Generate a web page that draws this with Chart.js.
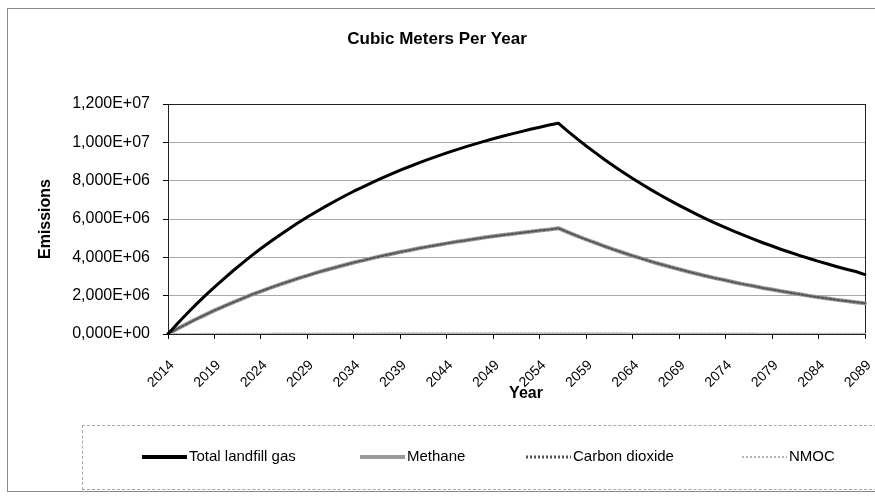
<!DOCTYPE html>
<html>
<head>
<meta charset="utf-8">
<script src="https://cdn.jsdelivr.net/npm/chart.js@4.4.1/dist/chart.umd.min.js"></script>
<style>
  html, body { margin: 0; padding: 0; background: #fff; }
  #wrap { position: relative; width: 875px; height: 496px; overflow: hidden; }
  .frame { position: absolute; box-sizing: border-box; }
  #outer { left: 7px; top: 8px; width: 870px; height: 484px; border: 1px solid #8a8a8a; border-right: none; }
  #legendBox { left: 82px; top: 425px; width: 795px; height: 65px; border: 1px dashed #a8a8a8; border-right: none; }
  canvas { position: absolute; left: 0; top: 0; }
</style>
</head>
<body>
<div id="wrap">
  <div id="outer" class="frame"></div>
  <div id="legendBox" class="frame"></div>
  <canvas id="gasChart" width="875" height="496"></canvas>
</div>
<script>
// lata 2014–2089, wartości w milionach m3 na rok
const years = [];
for (let y = 2014; y <= 2089; y++) years.push(String(y));

const totalGas = [
  0, 0.53, 1.04, 1.53, 2.00, 2.45, 2.88, 3.30, 3.70, 4.09,
  4.46, 4.81, 5.15, 5.48, 5.80, 6.10, 6.39, 6.67, 6.94, 7.20,
  7.45, 7.68, 7.91, 8.13, 8.34, 8.55, 8.74, 8.93, 9.11, 9.28,
  9.45, 9.61, 9.76, 9.91, 10.05, 10.19, 10.32, 10.44, 10.56, 10.68,
  10.79, 10.90, 11.00, 10.59, 10.19, 9.81, 9.45, 9.09, 8.75, 8.43,
  8.11, 7.81, 7.52, 7.24, 6.97, 6.71, 6.46, 6.22, 5.98, 5.76,
  5.55, 5.34, 5.14, 4.95, 4.76, 4.59, 4.41, 4.25, 4.09, 3.94,
  3.79, 3.65, 3.51, 3.38, 3.26, 3.10
];

const methane = [
  0, 0.27, 0.52, 0.77, 1.00, 1.23, 1.44, 1.65, 1.85, 2.05,
  2.23, 2.41, 2.58, 2.74, 2.90, 3.05, 3.20, 3.34, 3.47, 3.60,
  3.73, 3.84, 3.96, 4.07, 4.17, 4.28, 4.37, 4.47, 4.56, 4.64,
  4.73, 4.81, 4.88, 4.96, 5.03, 5.10, 5.16, 5.22, 5.28, 5.34,
  5.40, 5.45, 5.52, 5.32, 5.12, 4.93, 4.75, 4.57, 4.40, 4.24,
  4.08, 3.93, 3.78, 3.64, 3.51, 3.38, 3.25, 3.13, 3.01, 2.90,
  2.80, 2.69, 2.59, 2.50, 2.40, 2.32, 2.23, 2.15, 2.07, 1.99,
  1.92, 1.85, 1.78, 1.72, 1.66, 1.60
];

const carbonDioxide = [
  0, 0.27, 0.52, 0.77, 1.00, 1.23, 1.44, 1.65, 1.85, 2.05,
  2.23, 2.41, 2.58, 2.74, 2.90, 3.05, 3.20, 3.34, 3.47, 3.60,
  3.73, 3.84, 3.96, 4.07, 4.17, 4.28, 4.37, 4.47, 4.56, 4.64,
  4.73, 4.81, 4.88, 4.96, 5.03, 5.10, 5.16, 5.22, 5.28, 5.34,
  5.40, 5.45, 5.52, 5.32, 5.12, 4.93, 4.75, 4.57, 4.40, 4.24,
  4.08, 3.93, 3.78, 3.64, 3.51, 3.38, 3.25, 3.13, 3.01, 2.90,
  2.80, 2.69, 2.59, 2.50, 2.40, 2.32, 2.23, 2.15, 2.07, 1.99,
  1.92, 1.85, 1.78, 1.72, 1.66, 1.60
];

const nmoc = [
  0, 0.002, 0.004, 0.006, 0.008, 0.010, 0.012, 0.013, 0.015, 0.016,
  0.018, 0.019, 0.021, 0.022, 0.023, 0.024, 0.026, 0.027, 0.028, 0.029,
  0.030, 0.031, 0.032, 0.033, 0.033, 0.034, 0.035, 0.036, 0.036, 0.037,
  0.038, 0.038, 0.039, 0.040, 0.040, 0.041, 0.041, 0.042, 0.042, 0.043,
  0.043, 0.044, 0.044, 0.042, 0.041, 0.039, 0.038, 0.036, 0.035, 0.034,
  0.032, 0.031, 0.030, 0.029, 0.028, 0.027, 0.026, 0.025, 0.024, 0.023,
  0.022, 0.021, 0.021, 0.020, 0.019, 0.018, 0.018, 0.017, 0.016, 0.016,
  0.015, 0.015, 0.014, 0.014, 0.013, 0.013
];

const seriesNames = ['Total landfill gas', 'Methane', 'Carbon dioxide', 'NMOC'];
const labelEvery = 5;
const MILLION = 1e6;

const FONT = "'Liberation Sans', Arial, sans-serif";
Chart.defaults.font.family = FONT;
Chart.defaults.color = '#000';

// format jak w Excelu: 1,200E+07
function sciLabel(v) {
    if (v === 0) return '0,000E+00';
    const exp = Math.floor(Math.log10(v) + 1e-9);
    const mant = v / Math.pow(10, exp);
    return mant.toFixed(3).replace('.', ',') + 'E+' + String(exp).padStart(2, '0');
}

// ramka wokół obszaru wykresu
const plotFrame = {
    id: 'plotFrame',
    beforeDatasetsDraw(chart) {
        const a = chart.chartArea, c = chart.ctx;
        c.save();
        c.strokeStyle = '#222';
        c.lineWidth = 1;
        c.strokeRect(Math.round(a.left) + 0.5, Math.round(a.top) + 0.5,
                     Math.round(a.right - a.left), Math.round(a.bottom - a.top));
        c.restore();
    }
};

// tytuł, podpis osi X i legenda rysowane ręcznie (pozycje jak na oryginale)
const legendX = [142, 360, 526, 742];
const titleAndLegend = {
    id: 'titleAndLegend',
    afterDraw(chart) {
        const c = chart.ctx;
        c.save();
        c.fillStyle = '#000';
        c.font = 'bold 17px ' + FONT;
        c.textAlign = 'center';
        c.textBaseline = 'middle';
        c.fillText('Cubic Meters Per Year', 437, 39);

        c.font = 'bold 16px ' + FONT;
        c.fillText('Year', 526, 394);

        c.font = '15px ' + FONT;
        c.textAlign = 'left';
        const y = 457;
        chart.data.datasets.forEach((ds, i) => {
            const x = legendX[i];
            c.beginPath();
            c.strokeStyle = ds.legendColor || ds.borderColor;
            c.lineWidth = ds.legendWidth || ds.borderWidth;
            c.setLineDash(ds.borderDash || []);
            c.moveTo(x, y);
            c.lineTo(x + 45, y);
            c.stroke();
            c.setLineDash([]);
            c.fillText(ds.label, x + 47, y);
        });
        c.restore();
    }
};

const ctx = document.getElementById('gasChart').getContext('2d');

new Chart(ctx, {
    type: 'line',
    data: {
        labels: years,
        datasets: [
            {
                label: seriesNames[0],
                data: totalGas.map(v => v * MILLION),
                borderColor: '#000',
                borderWidth: 3,
                legendWidth: 4,
                order: 0
            },
            {
                label: seriesNames[1],
                data: methane.map(v => v * MILLION),
                borderColor: '#9a9a9a',
                borderWidth: 4,
                order: 3
            },
            {
                label: seriesNames[2],
                data: carbonDioxide.map(v => v * MILLION),
                borderColor: '#555',
                borderWidth: 2,
                borderDash: [2, 2],
                legendWidth: 3,
                order: 2
            },
            {
                label: seriesNames[3],
                data: nmoc.map(v => v * MILLION),
                borderColor: '#b5b5b5',
                borderWidth: 2,
                borderDash: [2, 2],
                order: 1
            }
        ]
    },
    options: {
        responsive: false,
        animation: false,
        devicePixelRatio: 1,
        layout: { padding: { top: 104, left: 36, right: 10, bottom: 92 } },
        elements: {
            point: { radius: 0 },
            line: { tension: 0, fill: false, borderCapStyle: 'round', borderJoinStyle: 'round' }
        },
        plugins: {
            legend: { display: false },
            title: { display: false },
            tooltip: { enabled: false }
        },
        scales: {
            x: {
                offset: false,
                grid: {
                    drawOnChartArea: false,
                    tickLength: 5,
                    tickColor: c => (c.index % labelEvery === 0 ? '#000' : 'rgba(0,0,0,0)')
                },
                border: { color: '#222' },
                ticks: {
                    autoSkip: false,
                    minRotation: 45,
                    maxRotation: 45,
                    padding: 18,
                    labelOffset: 4,
                    font: { size: 14 },
                    callback: function (val, i) {
                        return i % labelEvery === 0 ? this.getLabelForValue(val) : '';
                    }
                },
                title: { display: false },
                afterFit: s => {
                    s.height = 70;
                    s.paddingLeft = 0;
                    s.paddingRight = 0;
                }
            },
            y: {
                min: 0,
                max: 12 * MILLION,
                grid: {
                    color: '#a8a8a8',
                    tickLength: 5,
                    tickColor: '#000'
                },
                border: { color: '#222' },
                ticks: {
                    stepSize: 2 * MILLION,
                    padding: 13,
                    font: { size: 16 },
                    callback: v => sciLabel(v)
                },
                title: {
                    display: true,
                    text: 'Emissions',
                    font: { size: 16, weight: 'bold' },
                    padding: 0
                },
                afterFit: s => { s.width = 132; }
            }
        }
    },
    plugins: [plotFrame, titleAndLegend]
});
</script>
</body>
</html>
